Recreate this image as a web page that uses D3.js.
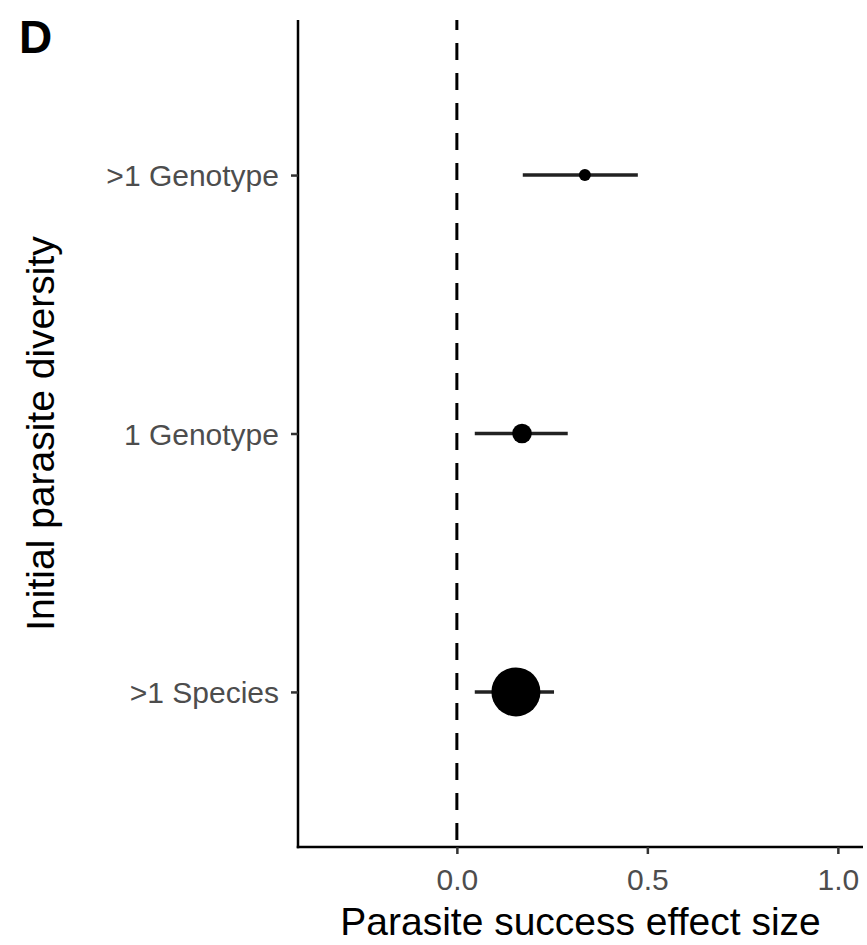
<!DOCTYPE html>
<html lang="en">
<head>
    <title>Parasite success effect size</title>
    <script src="https://d3js.org/d3.v7.min.js" charset="utf-8"></script>
    <style type="text/css">
        body
        {
            margin: 0;
            background-color: white;
        }
        svg
        {
            display: block;
            background-color: white;
            font-family: "Liberation Sans", Arial, Helvetica, sans-serif;
        }
    </style>
</head>
<body>
    <div id="chart_div"></div>
    <script>
    "use strict";
    // diversity levels, top to bottom
    var categories = [">1 Genotype", "1 Genotype", ">1 Species"];
    var estimate = [0.336, 0.171, 0.155];
    var lower = [0.173, 0.047, 0.047];
    var upper = [0.475, 0.291, 0.255];
    // point size = number of effect sizes
    var nEffects = [3, 8, 50];
    var xTicks = [0, 0.5, 1.0];
    var xDomain = [-0.417, 1.066];

    var svg_width = 867;
    var svg_height = 945;
    var pad_left = 298;
    var pad_right = 863;
    var pad_top = 20;
    var pad_bottom = 847;

    var mydata = categories.map(function(c, i)
    {
        return {cat: c, est: estimate[i], lo: lower[i], hi: upper[i], n: nEffects[i]};
    });

    var chart_svg = d3.select("#chart_div")
        .append("svg")
        .attr("width", svg_width)
        .attr("height", svg_height)
        .attr("id", "chart");

    var xscale = d3.scaleLinear()
        .domain(xDomain)
        .range([pad_left, pad_right]);
    var yscale = d3.scalePoint()
        .domain(categories)
        .range([pad_top, pad_bottom])
        .padding(0.6);
    var rscale = d3.scaleSqrt()
        .domain([0, d3.max(nEffects)])
        .range([0, 24.5]);

    // zero reference line
    chart_svg.append("line")
        .attr("x1", xscale(0))
        .attr("x2", xscale(0))
        .attr("y1", pad_top)
        .attr("y2", pad_bottom)
        .attr("stroke", "#000")
        .attr("stroke-width", 3)
        .attr("stroke-dasharray", "17,13")
        .attr("stroke-dashoffset", 7);

    chart_svg.selectAll("line.ci")
        .data(mydata)
        .enter()
        .append("line")
        .attr("class", "ci")
        .attr("x1", function(d) { return xscale(d.lo); })
        .attr("x2", function(d) { return xscale(d.hi); })
        .attr("y1", function(d) { return yscale(d.cat); })
        .attr("y2", function(d) { return yscale(d.cat); })
        .attr("stroke", "#222")
        .attr("stroke-width", 3.5);

    chart_svg.selectAll("circle")
        .data(mydata)
        .enter()
        .append("circle")
        .attr("cx", function(d) { return xscale(d.est); })
        .attr("cy", function(d) { return yscale(d.cat); })
        .attr("r", function(d) { return rscale(d.n); })
        .attr("fill", "#000");

    var xaxis = d3.axisBottom(xscale)
        .tickValues(xTicks)
        .tickFormat(d3.format(".1f"))
        .tickSize(7)
        .tickSizeOuter(0);
    var yaxis = d3.axisLeft(yscale)
        .tickSize(7)
        .tickSizeOuter(0);

    var gx = chart_svg.append("g")
        .attr("id", "x-axis")
        .attr("transform", "translate(0," + pad_bottom + ")")
        .call(xaxis);
    var gy = chart_svg.append("g")
        .attr("id", "y-axis")
        .attr("transform", "translate(" + pad_left + ",0)")
        .call(yaxis);

    [gx, gy].forEach(function(g)
    {
        g.select(".domain").attr("stroke", "#000").attr("stroke-width", 2.5);
        g.selectAll(".tick line").attr("stroke", "#333").attr("stroke-width", 2.5);
        g.selectAll(".tick text")
            .attr("fill", "#4d4d4d")
            .style("font-size", "30px")
            .style("font-family", "'Liberation Sans', Arial, sans-serif");
    });
    // make the two axis lines meet at the corner
    gx.select(".domain").attr("d", "M" + (pad_left - 1.25) + ",0H" + pad_right);
    gy.select(".domain").attr("d", "M0," + pad_top + "V" + (pad_bottom + 1.25));

    gx.selectAll(".tick text")
        .attr("dy", null)
        .attr("y", 43);
    gy.selectAll(".tick text")
        .attr("x", -19)
        .attr("dy", "0.35em");

    chart_svg.append("text")
        .attr("x", (pad_left + pad_right) / 2)
        .attr("y", 935)
        .style("text-anchor", "middle")
        .style("font-size", "39px")
        .attr("fill", "#000")
        .text("Parasite success effect size");

    chart_svg.append("text")
        .attr("transform", "translate(54," + ((pad_top + pad_bottom) / 2) + ") rotate(-90)")
        .style("text-anchor", "middle")
        .style("font-size", "39px")
        .attr("fill", "#000")
        .text("Initial parasite diversity");

    chart_svg.append("text")
        .attr("x", 19)
        .attr("y", 53)
        .style("font-size", "46px")
        .style("font-weight", "bold")
        .attr("fill", "#000")
        .text("D");
    </script>
</body>
</html>
